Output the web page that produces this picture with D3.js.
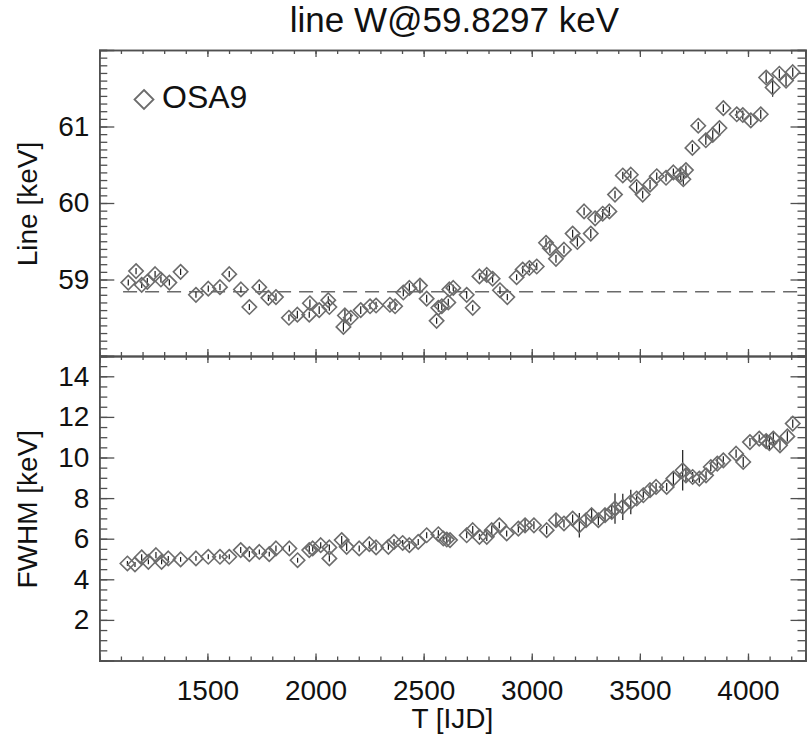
<!DOCTYPE html>
<html>
<head>
<meta charset="utf-8">
<script src="https://cdn.jsdelivr.net/npm/d3@7"></script>
<style>
  html, body { margin: 0; padding: 0; background: #fff; }
  svg { display: block; }
  text { font-family: "Liberation Sans", Arial, Helvetica, sans-serif; fill: #111; }
</style>
</head>
<body>
<svg id="chart" width="807" height="739"></svg>
<script>
// ---- Data ----
const title = "line W@59.8297 keV";
const legendLabel = "OSA9";
const xLabel = "T [IJD]";
const yLabelTop = "Line [keV]";
const yLabelBottom = "FWHM [keV]";
const xTicks = [1500, 2000, 2500, 3000, 3500, 4000];
const yTicksTop = [59, 60, 61];
const yTicksBottom = [2, 4, 6, 8, 10, 12, 14];
const refLine = 58.84;

// Top panel: line energy
const lineT = [1134,1170,1196,1222,1258,1285,1324,1376,1447,1504,1558,1601,1655,1694,1740,1782,1817,1877,1916,1974,1971,2017,2059,2064,2129,2136,2163,2209,2252,2280,2344,2368,2406,2434,2483,2514,2560,2568,2584,2614,2619,2637,2699,2727,2758,2792,2819,2853,2887,2930,2958,2989,3023,3066,3084,3112,3149,3189,3211,3242,3273,3293,3328,3359,3385,3421,3458,3485,3513,3547,3578,3621,3655,3689,3701,3713,3743,3770,3805,3837,3868,3886,3948,3976,4013,4059,4084,4114,4145,4176,4207];
const lineE = [58.96,59.11,58.93,58.97,59.07,59.00,58.96,59.10,58.80,58.88,58.90,59.07,58.87,58.64,58.90,58.76,58.77,58.50,58.54,58.69,58.54,58.60,58.73,58.64,58.38,58.53,58.50,58.60,58.65,58.66,58.67,58.65,58.83,58.89,58.92,58.75,58.46,58.63,58.65,58.70,58.87,58.89,58.80,58.63,59.04,59.06,59.01,58.86,58.77,59.03,59.13,59.15,59.17,59.48,59.41,59.27,59.39,59.60,59.49,59.89,59.60,59.80,59.86,59.89,60.11,60.36,60.37,60.21,60.11,60.24,60.35,60.33,60.40,60.37,60.31,60.43,60.72,61.01,60.82,60.89,60.98,61.24,61.16,61.15,61.08,61.16,61.64,61.51,61.69,61.60,61.71];
const lineErr = [0.04,0.04,0.04,0.05,0.04,0.04,0.04,0.04,0.04,0.04,0.04,0.04,0.04,0.04,0.04,0.04,0.05,0.04,0.05,0.05,0.04,0.05,0.05,0.05,0.06,0.08,0.05,0.05,0.04,0.05,0.04,0.05,0.05,0.06,0.07,0.05,0.04,0.05,0.05,0.05,0.05,0.04,0.05,0.04,0.04,0.06,0.05,0.05,0.04,0.04,0.05,0.06,0.05,0.06,0.06,0.05,0.05,0.05,0.06,0.05,0.06,0.05,0.06,0.06,0.05,0.05,0.05,0.06,0.05,0.06,0.05,0.05,0.05,0.07,0.07,0.06,0.05,0.05,0.06,0.06,0.06,0.05,0.05,0.06,0.06,0.06,0.07,0.12,0.06,0.07,0.06];

// Bottom panel: FWHM
const fwhmT = [1130,1165,1196,1227,1262,1288,1319,1376,1447,1504,1558,1601,1654,1694,1740,1786,1817,1879,1917,1971,1987,2024,2064,2064,2121,2144,2202,2249,2280,2337,2363,2403,2434,2475,2514,2568,2591,2607,2622,2699,2727,2758,2792,2815,2850,2884,2938,2969,3010,3069,3112,3149,3189,3220,3251,3277,3308,3339,3370,3385,3421,3458,3485,3516,3547,3575,3624,3655,3698,3713,3744,3775,3806,3828,3858,3886,3945,3978,4009,4052,4084,4099,4117,4148,4182,4207];
const fwhmV = [4.78,4.73,5.08,4.86,5.19,4.86,5.03,4.98,5.03,5.11,5.11,5.11,5.44,5.24,5.35,5.24,5.52,5.52,4.94,5.44,5.52,5.68,5.57,5.03,5.93,5.60,5.52,5.73,5.57,5.60,5.84,5.79,5.68,5.84,6.17,6.22,6.01,5.96,5.93,6.17,6.42,6.09,6.09,6.42,6.66,6.26,6.50,6.66,6.66,6.42,6.91,6.75,6.99,6.66,6.91,7.16,6.91,7.16,7.32,7.49,7.57,7.81,7.98,8.14,8.39,8.55,8.55,8.96,9.37,9.12,9.04,8.96,9.12,9.53,9.70,9.86,10.19,9.78,10.76,10.93,10.81,10.71,10.93,10.60,11.04,11.67];
const fwhmErr = [0.12,0.12,0.15,0.12,0.15,0.12,0.12,0.12,0.12,0.12,0.12,0.12,0.15,0.15,0.12,0.12,0.15,0.15,0.12,0.2,0.15,0.15,0.15,0.15,0.2,0.2,0.15,0.15,0.15,0.15,0.15,0.15,0.2,0.15,0.15,0.2,0.15,0.2,0.15,0.15,0.2,0.15,0.2,0.2,0.15,0.15,0.2,0.3,0.2,0.2,0.3,0.2,0.2,0.6,0.25,0.3,0.25,0.3,0.3,0.75,0.65,0.6,0.2,0.2,0.2,0.2,0.2,0.3,1.0,0.3,0.25,0.2,0.2,0.2,0.2,0.2,0.2,0.25,0.2,0.2,0.3,0.3,0.3,0.25,0.25,0.2];

// ---- Layout ----
const svg = d3.select("#chart");
const left = 99.3, right = 805.5;
const topY = 50, midY = 356, botY = 660.5;
const axisColor = "#505050";
const markColor = "#6c6c6c";

const x = d3.scaleLinear().domain([1000, 4266]).range([left, right]);
const yTop = d3.scaleLinear().domain([58, 62]).range([midY, topY]);
const yBot = d3.scaleLinear().domain([0, 15]).range([botY, midY]);

function range(a, b, step) { const r = []; for (let v = a; v <= b + 1e-9; v += step) r.push(+v.toFixed(4)); return r; }

function styleAxis(g, showLabels) {
  g.select(".domain").attr("stroke", axisColor).attr("stroke-width", 1.6);
  g.selectAll(".tick line").attr("stroke", axisColor).attr("stroke-width", 1.3);
  g.selectAll(".tick text").style("font-size", "28px").attr("fill", "#111");
  if (!showLabels) g.selectAll(".tick text").remove();
}

function drawPanel(y, yMajor, yMinorStep, xLabels) {
  const [d0, d1] = y.domain();
  const yMinor = range(d0, d1, yMinorStep);
  const xMinor = range(1000, 4266, 100);
  // left axis
  svg.append("g").attr("transform", `translate(${left},0)`)
    .call(d3.axisLeft(y).tickValues(yMinor).tickSize(-8).tickFormat(""))
    .call(g => styleAxis(g, false));
  svg.append("g").attr("transform", `translate(${left},0)`)
    .call(d3.axisLeft(y).tickValues(yMajor).tickSize(-15).tickPadding(10).tickFormat(d3.format("d")))
    .call(g => styleAxis(g, true));
  // right axis
  svg.append("g").attr("transform", `translate(${right},0)`)
    .call(d3.axisRight(y).tickValues(yMinor).tickSize(-8).tickFormat(""))
    .call(g => styleAxis(g, false));
  svg.append("g").attr("transform", `translate(${right},0)`)
    .call(d3.axisRight(y).tickValues(yMajor).tickSize(-15).tickFormat(""))
    .call(g => styleAxis(g, false));
  // top and bottom axes
  const yt = y.range()[1], yb = y.range()[0];
  svg.append("g").attr("transform", `translate(0,${yt})`)
    .call(d3.axisTop(x).tickValues(xMinor).tickSize(-4).tickFormat(""))
    .call(g => styleAxis(g, false));
  svg.append("g").attr("transform", `translate(0,${yt})`)
    .call(d3.axisTop(x).tickValues(xTicks).tickSize(-7).tickFormat(""))
    .call(g => styleAxis(g, false));
  svg.append("g").attr("transform", `translate(0,${yb})`)
    .call(d3.axisBottom(x).tickValues(xMinor).tickSize(-4).tickFormat(""))
    .call(g => styleAxis(g, false));
  svg.append("g").attr("transform", `translate(0,${yb})`)
    .call(d3.axisBottom(x).tickValues(xTicks).tickSize(-7).tickPadding(20).tickFormat(d3.format("d")))
    .call(g => styleAxis(g, xLabels));
}

drawPanel(yTop, yTicksTop, 0.1, false);
drawPanel(yBot, yTicksBottom, 0.5, true);

// reference dashed line
svg.append("line")
  .attr("x1", x(1110)).attr("x2", x(4266))
  .attr("y1", yTop(refLine)).attr("y2", yTop(refLine))
  .attr("stroke", "#6a6a6a").attr("stroke-width", 1.6)
  .attr("stroke-dasharray", "14,8");

const diamond = r => `M0,${-r}L${r},0L0,${r}L${-r},0Z`;

function drawSeries(T, V, E, y, cls) {
  const data = T.map((t, i) => ({ t, v: V[i], e: E[i] }));
  const g = svg.append("g").attr("class", cls);
  g.selectAll("line.err").data(data).join("line").attr("class", "err")
    .attr("x1", d => x(d.t)).attr("x2", d => x(d.t))
    .attr("y1", d => y(d.v - d.e)).attr("y2", d => y(d.v + d.e))
    .attr("stroke", "#1a1a1a").attr("stroke-width", 1.2);
  g.selectAll("path.pt").data(data).join("path").attr("class", "pt")
    .attr("d", diamond(7.2))
    .attr("transform", d => `translate(${x(d.t)},${y(d.v)})`)
    .attr("fill", "none").attr("stroke", markColor).attr("stroke-width", 1.6);
}

drawSeries(lineT, lineE, lineErr, yTop, "top-series");
drawSeries(fwhmT, fwhmV, fwhmErr, yBot, "bottom-series");

// legend
svg.append("path").attr("d", diamond(9.5))
  .attr("transform", "translate(144,99.5)")
  .attr("fill", "none").attr("stroke", markColor).attr("stroke-width", 1.8);
svg.append("text").attr("x", 162).attr("y", 108)
  .style("font-size", "32px").text(legendLabel);

// titles
svg.append("text").attr("x", (left + right) / 2 + 2).attr("y", 32)
  .attr("text-anchor", "middle").style("font-size", "35px").text(title);
svg.append("text").attr("x", (left + right) / 2).attr("y", 728)
  .attr("text-anchor", "middle").style("font-size", "28px").text(xLabel);
svg.append("text").attr("transform", `translate(37,${(topY + midY) / 2 + 1}) rotate(-90)`)
  .attr("text-anchor", "middle").style("font-size", "28px").text(yLabelTop);
svg.append("text").attr("transform", `translate(37,${(midY + botY) / 2 + 1}) rotate(-90)`)
  .attr("text-anchor", "middle").style("font-size", "28px").text(yLabelBottom);
</script>
</body>
</html>
